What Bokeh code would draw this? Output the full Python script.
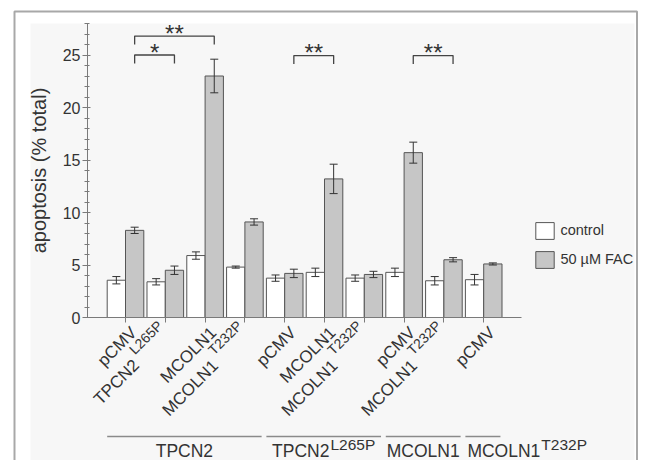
import math
from bokeh.plotting import figure
from bokeh.models import (Range1d, LinearAxis, SingleIntervalTicker, FixedTicker,
                          ColumnDataSource, Whisker, TeeHead, Legend, LegendItem)
from bokeh.core.properties import value
from bokeh.embed import file_html
from bokeh.resources import INLINE

# ---------------- data ----------------
constructs = ["pCMV", "TPCN2", "MCOLN1", "MCOLN1", "pCMV", "MCOLN1", "MCOLN1", "pCMV", "MCOLN1", "pCMV"]
construct_sup = ["", "L265P", "", "T232P", "", "", "T232P", "", "T232P", ""]
control = [3.55, 3.4, 5.9, 4.8, 3.75, 4.3, 3.75, 4.3, 3.5, 3.6]
control_err = [0.35, 0.3, 0.35, 0.1, 0.3, 0.4, 0.3, 0.4, 0.4, 0.5]
fac = [8.3, 4.5, 23.0, 9.1, 4.2, 13.2, 4.1, 15.7, 5.5, 5.1]
fac_err = [0.3, 0.4, 1.6, 0.3, 0.4, 1.4, 0.3, 1.0, 0.2, 0.1]
series_names = ["control", "50 \u00b5M FAC"]

cell_names = ["TPCN2", "TPCN2", "MCOLN1", "MCOLN1"]
cell_sup = ["", "L265P", "", "T232P"]
cell_first = [0, 4, 7, 9]
cell_last = [3, 6, 8, 9]

sig_left = [0, 0, 4, 7]
sig_right = [1, 2, 5, 8]
sig_level = [25.0, 26.8, 24.95, 24.95]
sig_mark = ["*", "**", "**", "**"]

y_axis_title = "apoptosis (% total)"
y_max = 28

# ---------------- geometry / style ----------------
W, H = 638, 460
XS, YS = 39.8, 10.5          # px per category, px per unit
X0_PX, Y0_PX = 125.0, 317.0  # canvas position of category 0 and of value 0
BW = 0.46
FONT = "Liberation Sans"
TXT = "#333333"
AX = "#7a7a7a"
EDGE = "#555555"
GRAYFILL = "#c6c6c6"

CW = {'M': .833, 'C': .722, 'O': .778, 'L': .556, 'N': .722, '1': .556, 'T': .611,
      'P': .667, '2': .556, '3': .556, '5': .556, '6': .556, 'p': .556, 'V': .667}


def est_width(s, size):
    return sum(CW.get(ch, .556) for ch in s) * size


def fx(px):
    return (px - X0_PX) / XS


def fy(py):
    return (Y0_PX - py) / YS


p = figure(width=W, height=H, x_range=Range1d(fx(0), fx(W)), y_range=Range1d(fy(H), fy(0)),
           x_axis_location=None, y_axis_location=None, min_border=0,
           toolbar_location=None, output_backend="svg", outline_line_color=None,
           background_fill_color="white", border_fill_color="white")
p.grid.visible = False

# panel and frame border
p.quad(left=[fx(30)], right=[fx(634)], top=[fy(23)], bottom=[fy(470)],
       fill_color="#f7f7f7", line_color=None)
p.quad(left=[fx(14)], right=[fx(636.5)], top=[fy(11)], bottom=[fy(480)],
       fill_color=None, line_color="#a8a8a8", line_width=2)

idx = list(range(len(constructs)))
src = ColumnDataSource(dict(
    xc=[i - BW / 2 for i in idx], xf=[i + BW / 2 for i in idx],
    control=control, fac=fac,
    cl=[v - e for v, e in zip(control, control_err)], cu=[v + e for v, e in zip(control, control_err)],
    fl=[v - e for v, e in zip(fac, fac_err)], fu=[v + e for v, e in zip(fac, fac_err)],
))

r1 = p.vbar(x="xc", top="control", bottom=0, width=BW, source=src,
            fill_color="white", line_color=EDGE, line_width=1)
r2 = p.vbar(x="xf", top="fac", bottom=0, width=BW, source=src,
            fill_color=GRAYFILL, line_color=EDGE, line_width=1)

for base, lo, up in (("xc", "cl", "cu"), ("xf", "fl", "fu")):
    p.add_layout(Whisker(source=src, base=base, lower=lo, upper=up, dimension="height",
                         level="annotation", line_color="#333333", line_width=1,
                         upper_head=TeeHead(size=8, line_color="#333333", line_width=1),
                         lower_head=TeeHead(size=8, line_color="#333333", line_width=1)))

# axes
yax = LinearAxis(fixed_location=fx(87), bounds=(0, y_max),
                 ticker=SingleIntervalTicker(interval=5, num_minor_ticks=5),
                 axis_label=y_axis_title, axis_label_text_font=FONT,
                 axis_label_text_font_size="20px", axis_label_text_font_style="normal",
                 axis_label_text_color=TXT, axis_label_standoff=10,
                 major_label_text_font=FONT, major_label_text_font_size="16px",
                 major_label_text_color=TXT, major_label_standoff=2,
                 axis_line_color=AX, major_tick_line_color=AX, minor_tick_line_color=AX,
                 major_tick_in=3, major_tick_out=5, minor_tick_in=2, minor_tick_out=3)
p.add_layout(yax, "left")

xax = LinearAxis(fixed_location=0, bounds=(fx(87), fx(521)),
                 ticker=FixedTicker(ticks=idx, minor_ticks=[]),
                 major_label_overrides={i: "" for i in idx},
                 axis_line_color=AX, major_tick_line_color=AX,
                 major_tick_in=0, major_tick_out=5, minor_tick_in=0, minor_tick_out=0)
p.add_layout(xax, "below")

# rotated category labels
ang = math.pi / 4
c = math.cos(ang)
rv = (c, -c)   # reading direction (screen, y down)
uv = (-c, -c)  # text up direction
TICK_SIZE, SUP_SIZE = 17, 14

bx_, by_, bt_ = [], [], []
sx_, sy_, st_ = [], [], []
for i, (name, sup) in enumerate(zip(constructs, construct_sup)):
    if not sup:
        ax_px, ay_px = 8.4, 12.4
    else:
        ws = est_width(sup, SUP_SIZE)
        hs = 0.37 * SUP_SIZE
        tx, ty = -9.0, 2.0
        ex, ey = tx - uv[0] * hs, ty - uv[1] * hs
        s0x, s0y = ex - rv[0] * ws, ey - rv[1] * ws
        sx_.append(i + s0x / XS)
        sy_.append(-s0y / YS)
        st_.append(sup)
        raise_, gap = 11.0, 4.0
        ax_px = s0x - rv[0] * gap - uv[0] * raise_
        ay_px = s0y - rv[1] * gap - uv[1] * raise_
    bx_.append(i + ax_px / XS)
    by_.append(-ay_px / YS)
    bt_.append(name)

p.text(x=bx_, y=by_, text=bt_, angle=ang, text_align="right", text_baseline="middle",
       text_font=value(FONT), text_font_size=f"{TICK_SIZE}px", text_color=TXT)
p.text(x=sx_, y=sy_, text=st_, angle=ang, text_align="left", text_baseline="middle",
       text_font=value(FONT), text_font_size=f"{SUP_SIZE}px", text_color=TXT)

# group lines and names below
PAD_L, PAD_R = 0.46, 0.42
GSIZE, GSUP = 17.5, 15.5
seg_x0, seg_x1 = [], []
gx, gt, gsx, gst = [], [], [], []
for k in range(len(cell_names)):
    left = cell_first[k] - PAD_L
    right = cell_last[k] + PAD_R
    seg_x0.append(left)
    seg_x1.append(right)
    wb = est_width(cell_names[k], GSIZE)
    ws = est_width(cell_sup[k], GSUP) if cell_sup[k] else 0.0
    gap = 1.0 if cell_sup[k] else 0.0
    total = wb + gap + ws
    line_px = (right - left) * XS
    if total <= line_px + 10:
        start = (left + right) / 2 - (total / 2) / XS
    else:
        start = left + 2 / XS
    gx.append(start)
    gt.append(cell_names[k])
    if cell_sup[k]:
        gsx.append(start + (wb + gap) / XS)
        gst.append(cell_sup[k])

line_y = fy(436)
p.segment(x0=seg_x0, x1=seg_x1, y0=[line_y] * len(seg_x0), y1=[line_y] * len(seg_x0),
          line_color="#8a8a8a", line_width=1.5)
p.text(x=gx, y=[fy(450)] * len(gx), text=gt, text_align="left", text_baseline="alphabetic",
       text_font=value(FONT), text_font_size=f"{GSIZE}px", text_color=TXT)
p.text(x=gsx, y=[fy(443.5)] * len(gsx), text=gst, text_align="left", text_baseline="alphabetic",
       text_font=value(FONT), text_font_size=f"{GSUP}px", text_color=TXT)

# significance brackets
LEG = 0.8
bxs, bys = [], []
stx, sty = [], []
for a, b, lev in zip(sig_left, sig_right, sig_level):
    xa, xb = a + BW / 2, b + BW / 2
    bxs.append([xa, xa, xb, xb])
    bys.append([lev - LEG, lev, lev, lev - LEG])
    stx.append((xa + xb) / 2)
    sty.append(lev + 3.0 / YS)
p.multi_line(xs=bxs, ys=bys, line_color="#444444", line_width=1.3)
p.text(x=stx, y=sty, text=sig_mark, text_align="center", text_baseline="middle",
       text_font=value(FONT), text_font_size="24px", text_color=TXT)

# legend
legend = Legend(items=[LegendItem(label=series_names[0], renderers=[r1]),
                       LegendItem(label=series_names[1], renderers=[r2])],
                location=(533.4, H - 269.6), orientation="vertical", padding=0, margin=0,
                spacing=8, glyph_width=23, glyph_height=21, label_standoff=4,
                border_line_color=None, background_fill_alpha=0,
                label_text_font=FONT, label_text_font_size="14.5px", label_text_color=TXT)
p.add_layout(legend, "center")

open("out.html", "w").write(file_html(p, INLINE))
